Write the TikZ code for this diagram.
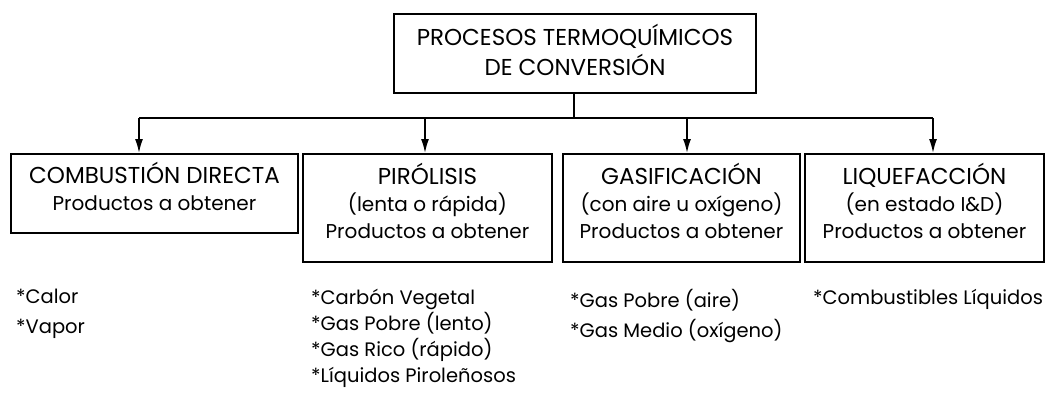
\documentclass[tikz,border=0pt]{standalone}
\usepackage{fontspec}
\setmainfont{Poppins}
\usetikzlibrary{arrows.meta}

\newcommand{\mayus}{\fontsize{23}{30}\selectfont}

\tikzset{
    caja/.style={draw, line width=1.6pt, align=center, inner sep=0pt,
        font=\fontsize{20}{27}\selectfont, text depth=14pt},
    lista/.style={align=left, anchor=north west, inner sep=0pt,
        font=\fontsize{19.5}{26}\selectfont},
    flecha/.style={line width=1.6pt, -{Latex[length=14pt,width=8pt]}}
}

\begin{document}
\begin{tikzpicture}[x=1pt,y=-1pt]
            \useasboundingbox (0,0) rectangle (1054,397);
            \node[caja, minimum width=362pt, minimum height=79pt, font=\fontsize{23}{30}\selectfont, text depth=7pt] (proc) at (575,53.5) {PROCESOS TERMOQUÍMICOS\\DE CONVERSIÓN};
            \node[caja, anchor=north, minimum width=287pt, minimum height=79pt] (comb) at (154.5,153) {{\mayus COMBUSTIÓN DIRECTA}\\Productos a obtener};
            \node[caja, anchor=north, minimum width=249pt, minimum height=108pt] (piro) at (427.5,153) {{\mayus PIRÓLISIS}\\(lenta o rápida)\\Productos a obtener};
            \node[caja, anchor=north, minimum width=237pt, minimum height=108pt] (gasi) at (681.5,153) {{\mayus GASIFICACIÓN}\\(con aire u oxígeno)\\Productos a obtener};
            \node[caja, anchor=north, minimum width=239pt, minimum height=108pt] (lique) at (924.5,153) {{\mayus LIQUEFACCIÓN}\\(en estado I\&D)\\Productos a obtener};
            \coordinate (bus) at (574,118);
            \coordinate (b1) at (139,118);
            \coordinate (b2) at (425,118);
            \coordinate (b3) at (687,118);
            \coordinate (b4) at (933,118);
            \draw[line width=1.6pt] (proc.south -| bus) -- (bus);
            \draw[line width=1.6pt] (b1) -- (b4);
            \draw[flecha] (b1) -- (b1 |- comb.north);
            \draw[flecha] (b2) -- (b2 |- piro.north);
            \draw[flecha] (b3) -- (b3 |- gasi.north);
            \draw[flecha] (b4) -- (b4 |- lique.north);
            % productos
            \node[lista, font=\fontsize{19.5}{30}\selectfont] (l1) at (16,289) {*Calor\\*Vapor};
            \node[lista] (l2) at (311,289) {*Carbón Vegetal\\*Gas Pobre (lento)\\*Gas Rico (rápido)\\*Líquidos Piroleñosos};
            \node[lista, font=\fontsize{19.5}{30}\selectfont] (l3) at (570,289) {*Gas Pobre (aire)\\*Gas Medio (oxígeno)};
            \node[lista] (l4) at (813,289) {*Combustibles Líquidos};
        \end{tikzpicture}
\end{document}
